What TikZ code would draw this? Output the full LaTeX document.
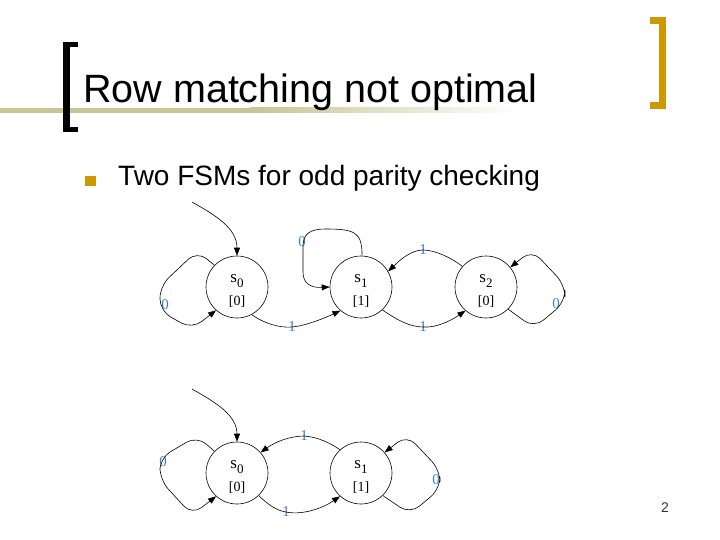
\documentclass[tikz,border=0pt]{standalone}
\usepackage{fontspec}
\setmainfont{Liberation Serif}
\newfontfamily\sansf{Liberation Sans}
\usetikzlibrary{arrows.meta}
\definecolor{barcol}{RGB}{199,196,150}
\definecolor{goldc}{RGB}{204,153,0}
\definecolor{lblblue}{RGB}{58,128,208}
\definecolor{pgnum}{RGB}{51,51,51}
\begin{document}
\begin{tikzpicture}[x=1pt,y=1pt,
  state/.style={draw, circle, minimum size=62pt, inner sep=0pt, line width=0.6pt},
  sname/.style={anchor=base, inner sep=0pt, font=\fontsize{17}{17}\selectfont},
  sval/.style={anchor=base, inner sep=0pt, font=\fontsize{14}{14}\selectfont},
  edge/.style={line width=0.6pt, -{Triangle[length=8pt,width=6pt]}},
  loopline/.style={edge, rounded corners=12pt},
  elbl/.style={text=lblblue, font=\fontsize{15}{15}\selectfont, inner sep=0pt}]
\useasboundingbox (0,0) rectangle (720,-540);
% title decoration
\fill[barcol] (0,-108) rectangle (250,-113);
\shade[left color=barcol, right color=white] (250,-108) rectangle (520,-113);
\fill[black] (63,-42) rectangle (70,-132);
\fill[black] (63,-42) rectangle (78,-47);
\fill[black] (63,-127) rectangle (78,-132);
\fill[goldc] (659,-17) rectangle (666,-109);
\fill[goldc] (650,-17) rectangle (666,-24);
\fill[goldc] (650,-102) rectangle (666,-109);
\node[anchor=base west, inner sep=0pt, font=\sansf\fontsize{39.5}{40}\selectfont] (title) at (83,-103) {Row matching not optimal};
\fill[goldc] (85,-176) rectangle (96,-186);
\node[anchor=base west, inner sep=0pt, font=\sansf\fontsize{28}{30}\selectfont] (bullet) at (118,-186) {Two FSMs for odd parity checking};
\node[text=pgnum, inner sep=0pt, font=\sansf\fontsize{14}{14}\selectfont] (page) at (665,-508) {2};

% upper FSM
\node[state] (a0) at (237,-287) {};
\node[state] (a1) at (361,-287) {};
\node[state] (a2) at (486,-287) {};
\foreach \n/\i/\v in {a0/0/0, a1/1/1, a2/2/0}{
  \node[sname] (\n s) at ([yshift=5pt]\n.center) {s\raisebox{-5pt}{\fontsize{13}{13}\selectfont\i}};
  \node[sval] (\n v) at ([yshift=-18pt]\n.center) {[\v]};
}
\node[elbl] (u0) at (165,-305) {0};
\node[elbl] (u1) at (292,-327) {1};
\node[elbl] (u2) at (302,-242) {0};
\node[elbl] (u3) at (423,-250) {1};
\node[elbl] (u4) at (423,-327) {1};
\node[elbl] (u5) at (556,-304) {0};
\coordinate (i0) at (192,-202);
\draw[edge] (i0) .. controls (215,-215) and (237,-228) .. (a0.north);
\draw[loopline] (a0.136) -- (197,-251) -- (160,-286) -- (160,-311) -- (192,-329) -- (a0.228);
\draw[edge] (a0.-62) .. controls (265,-324) and (280,-328) .. (u1.center) .. controls (305,-326) and (325,-318) .. (a1.-131);
\draw[edge] (a1.88) .. controls (362,-232) and (355,-229) .. (325,-229) .. controls (310,-229) and (303,-234) .. (303,-246) -- (303,-272) .. controls (303,-283) and (310,-288) .. (a1.west);
\draw[edge] (a2.139) .. controls (452,-258) and (435,-250) .. (u3.center) .. controls (410,-250) and (398,-262) .. (a1.30);
\draw[edge] (a1.-47) .. controls (397,-320) and (410,-327) .. (u4.center) .. controls (437,-328) and (452,-320) .. (a2.-131);
\draw[loopline] (a2.-45) -- (534,-328) -- (565,-302) -- (565,-285) -- (532,-250) -- (a2.39);

% lower FSM
\node[state] (b0) at (237,-473) {};
\node[state] (b1) at (361,-473) {};
\foreach \n/\i/\v in {b0/0/0, b1/1/1}{
  \node[sname] (\n s) at ([yshift=5pt]\n.center) {s\raisebox{-5pt}{\fontsize{13}{13}\selectfont\i}};
  \node[sval] (\n v) at ([yshift=-18pt]\n.center) {[\v]};
}
\node[elbl] (v0) at (163,-462) {0};
\node[elbl] (v1) at (304,-436) {1};
\node[elbl] (v2) at (286,-512) {1};
\node[elbl] (v3) at (436,-480) {0};
\coordinate (i1) at (192,-389);
\draw[edge] (i1) .. controls (215,-402) and (237,-415) .. (b0.north);
\draw[loopline] (b0.136) -- (197,-436) -- (160,-458) -- (160,-480) -- (192,-515) -- (b0.228);
\draw[edge] (b1.132) .. controls (330,-443) and (318,-437) .. (v1.center) .. controls (290,-436) and (275,-442) .. (b0.41);
\draw[edge] (b0.-46) .. controls (268,-505) and (278,-511) .. (v2.center) .. controls (300,-515) and (320,-510) .. (b1.-132);
\draw[loopline] (b1.-46) -- (410,-514) -- (440,-489) -- (440,-470) -- (407,-435) -- (b1.41);
\end{tikzpicture}
\end{document}
